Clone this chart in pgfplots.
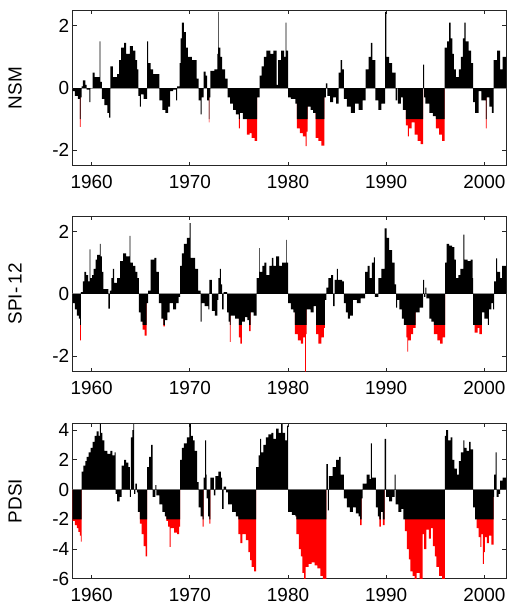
\documentclass[border=0pt]{standalone}
\usepackage{fontspec}
\setmainfont{Liberation Sans}
\usepackage{pgfplots}
\usepackage{pgfplotstable}
\pgfplotsset{compat=1.18}

\pgfplotstableread{
t v
1958.05 -0.1
1958.3 -0.25
1958.6 -0.35
1958.8 -1.25
1958.87 -0.3
1958.97 0.05
1959.1 0.25
1959.35 0.1
1959.5 -0.05
1959.78 -0.45
1959.88 0.0
1960.1 0.5
1960.3 0.35
1960.8 1.5
1960.88 0.2
1961.05 -0.35
1961.3 -0.55
1961.6 -0.8
1961.78 -0.95
1961.9 0.7
1962.15 0.35
1962.6 0.45
1962.8 0.9
1963.0 1.3
1963.3 1.45
1963.5 1.1
1963.9 1.35
1964.2 1.2
1964.45 0.9
1964.62 0.6
1964.75 -0.25
1964.92 -0.6
1965.02 -0.2
1965.3 -0.35
1965.65 1.5
1965.75 0.8
1966.0 0.6
1966.25 0.45
1966.9 -0.4
1967.2 -0.7
1967.5 -0.8
1967.8 -0.6
1968.0 -0.1
1968.3 -0.05
1968.6 -0.4
1968.7 0.05
1968.95 0.8
1969.05 1.6
1969.2 2.1
1969.4 1.8
1969.6 1.3
1969.8 1.0
1970.2 0.9
1970.7 0.3
1970.9 -0.4
1971.1 -0.85
1971.2 -0.3
1971.4 0.53
1971.6 0.4
1971.75 -0.4
1971.95 -1.1
1972.0 -0.3
1972.1 0.55
1972.5 0.6
1972.8 1.1
1972.88 2.45
1972.93 1.3
1973.1 1.0
1973.3 0.6
1973.6 0.3
1973.85 -0.3
1974.1 -0.5
1974.4 -0.7
1974.7 -0.85
1975.0 -1.3
1975.1 -0.8
1975.4 -1.0
1975.8 -1.5
1976.1 -1.45
1976.3 -1.6
1976.6 -1.7
1976.85 -0.3
1977.1 0.4
1977.3 0.7
1977.55 1.0
1977.8 1.2
1978.2 1.1
1978.5 1.2
1978.85 0.1
1979.0 0.9
1979.3 1.2
1979.6 1.0
1979.75 2.1
1979.82 1.2
1980.0 -0.3
1980.3 -0.35
1980.75 -0.5
1980.9 -1.3
1981.2 -1.45
1981.5 -1.55
1981.8 -1.87
1981.9 -1.4
1982.0 -0.6
1982.3 -0.7
1982.55 -0.8
1982.8 -1.6
1983.1 -1.7
1983.4 -1.85
1983.7 -0.3
1983.85 0.15
1984.0 -0.25
1984.3 -0.45
1984.6 -0.3
1984.9 -0.5
1985.15 0.5
1985.35 0.9
1985.5 0.6
1985.7 -0.35
1986.0 -0.6
1986.4 -0.8
1986.8 -0.5
1987.2 -0.7
1987.6 -0.4
1987.9 0.6
1988.2 1.0
1988.45 1.45
1988.6 0.9
1988.9 -0.4
1989.2 -0.7
1989.5 -0.5
1989.88 2.45
1990.02 1.0
1990.3 0.8
1990.6 0.5
1990.95 -0.4
1991.1 0.0
1991.2 -0.5
1991.5 -0.3
1991.7 -0.7
1992.0 -1.2
1992.2 -1.55
1992.3 -1.3
1992.6 -1.1
1992.9 -1.5
1993.2 -1.7
1993.5 -1.8
1993.75 0.75
1993.85 -0.3
1994.0 -0.5
1994.4 -0.8
1994.75 -0.9
1995.05 -1.3
1995.4 -1.5
1995.7 -1.7
1995.95 1.3
1996.2 1.5
1996.4 2.1
1996.55 1.6
1996.75 1.1
1996.9 0.6
1997.1 0.35
1997.4 0.6
1997.6 1.0
1997.8 1.6
1997.95 2.1
1998.1 1.5
1998.4 1.2
1998.65 0.8
1998.85 -0.45
1999.05 -0.8
1999.4 -0.1
1999.7 -0.4
2000.15 -1.3
2000.22 -0.3
2000.5 -0.6
2000.75 -0.8
2000.95 0.9
2001.3 1.2
2001.6 0.6
2001.85 1.0
2002.2 1.0
}\nsm

\pgfplotstableread{
t v
1958.05 -0.3
1958.3 -0.5
1958.5 -0.7
1958.7 -0.8
1958.83 -1.5
1958.9 0.05
1959.1 0.4
1959.25 0.7
1959.45 0.6
1959.65 0.4
1959.8 1.43
1959.88 0.5
1960.05 0.6
1960.2 0.8
1960.4 1.1
1960.55 1.25
1960.85 1.6
1960.92 1.2
1961.05 0.7
1961.2 0.15
1961.7 -0.48
1961.85 0.1
1962.0 0.5
1962.15 0.8
1962.3 0.35
1962.6 0.5
1962.9 1.05
1963.2 1.3
1963.5 1.2
1963.88 1.86
1963.95 1.0
1964.2 0.9
1964.45 0.7
1964.65 0.5
1964.8 -0.6
1965.0 -0.9
1965.2 -1.15
1965.4 -1.35
1965.6 -0.3
1965.75 0.1
1966.0 1.1
1966.4 1.15
1966.6 0.7
1966.85 -0.3
1967.1 -0.8
1967.3 -1.05
1967.45 -0.85
1967.7 -0.6
1967.95 -0.3
1968.3 -0.5
1968.6 -0.3
1968.85 -0.1
1969.0 0.9
1969.2 1.3
1969.4 1.6
1969.7 1.8
1969.98 2.27
1970.08 1.15
1970.55 0.8
1970.85 0.1
1971.1 -0.9
1971.2 -0.3
1971.5 -0.4
1971.9 -0.5
1972.0 0.45
1972.25 -0.55
1972.55 -0.7
1972.8 -0.2
1972.9 0.5
1973.05 0.8
1973.15 0.3
1973.3 -0.5
1973.45 0.05
1973.8 -0.6
1973.95 -0.9
1974.07 -1.55
1974.15 -0.7
1974.6 -0.8
1975.0 -1.4
1975.15 -1.6
1975.3 -0.9
1975.6 -0.75
1975.85 -0.85
1976.05 -1.2
1976.2 -0.6
1976.5 -0.7
1976.8 0.5
1977.05 1.47
1977.12 0.7
1977.4 0.9
1977.6 1.0
1977.8 0.6
1978.1 0.9
1978.35 1.15
1978.5 0.9
1978.8 1.2
1979.1 0.9
1979.4 1.0
1979.8 1.73
1979.87 1.0
1980.0 -0.3
1980.3 -0.5
1980.55 -0.6
1980.7 -1.3
1981.0 -1.5
1981.3 -1.6
1981.55 -1.4
1981.75 -2.5
1981.82 -1.3
1981.9 -0.5
1982.3 -0.6
1982.6 -0.4
1982.85 -1.3
1983.1 -1.6
1983.4 -1.4
1983.65 -1.1
1983.75 -0.2
1983.9 0.2
1984.1 0.5
1984.4 0.6
1984.6 -0.4
1984.75 0.45
1984.98 0.8
1985.08 0.45
1985.5 0.4
1985.7 -0.3
1985.9 -0.6
1986.1 -0.8
1986.3 -0.7
1986.6 -0.2
1987.0 -0.3
1987.4 -0.15
1987.85 0.7
1988.1 0.9
1988.3 0.5
1988.55 1.0
1988.75 1.17
1988.85 -0.1
1989.2 0.5
1989.5 0.8
1989.85 2.1
1990.05 1.8
1990.3 1.4
1990.6 1.0
1990.85 0.3
1991.0 -0.45
1991.1 -0.2
1991.35 -0.5
1991.6 -0.8
1991.8 -1.0
1992.05 -1.4
1992.15 -1.86
1992.22 -1.5
1992.5 -1.3
1992.75 -1.1
1993.0 -0.6
1993.4 -0.45
1993.75 0.45
1993.85 -0.1
1994.0 0.2
1994.1 -0.15
1994.4 -0.8
1994.6 -0.9
1994.85 -1.3
1995.2 -1.5
1995.5 -1.6
1995.75 -1.4
1996.0 1.0
1996.15 1.6
1996.4 1.55
1996.7 1.5
1996.95 1.1
1997.1 0.5
1997.35 0.6
1997.55 0.8
1997.85 1.9
1997.95 1.1
1998.3 1.05
1998.6 1.1
1998.8 0.5
1998.85 -1.0
1999.0 -1.25
1999.3 -1.1
1999.5 -1.3
1999.75 -0.6
2000.0 -0.8
2000.35 -1.0
2000.45 -0.5
2000.7 -0.3
2000.9 -0.5
2001.0 0.4
2001.2 1.14
2001.3 0.7
2001.6 0.5
2001.8 0.9
2002.2 0.9
}\spi

\pgfplotstableread{
t v
1958.05 -2.1
1958.3 -2.4
1958.5 -2.6
1958.65 -2.85
1958.8 -3.1
1958.9 -3.5
1958.98 1.2
1959.15 1.6
1959.35 1.9
1959.5 2.2
1959.7 2.5
1959.9 2.8
1960.1 3.2
1960.3 3.6
1960.5 3.9
1960.7 3.6
1960.85 4.43
1960.95 3.8
1961.1 3.3
1961.3 2.6
1961.6 2.4
1961.9 2.6
1962.1 2.3
1962.35 2.5
1962.45 -0.3
1962.6 -0.8
1962.85 -0.5
1963.05 1.6
1963.3 2.0
1963.5 1.8
1963.75 1.5
1963.9 -0.5
1964.0 3.5
1964.15 4.0
1964.25 4.4
1964.32 -0.3
1964.45 0.4
1964.6 -0.2
1964.7 -1.5
1964.9 -2.3
1965.1 -3.0
1965.3 -3.8
1965.5 -4.5
1965.65 1.5
1965.85 2.2
1966.05 3.0
1966.2 -0.5
1966.5 0.3
1966.6 -0.4
1966.9 -1.0
1967.2 -1.5
1967.45 -1.8
1967.6 -2.1
1967.8 -2.5
1967.95 -3.85
1968.05 -2.6
1968.4 -2.9
1968.7 -3.0
1968.9 -2.5
1969.0 2.0
1969.2 2.8
1969.4 3.1
1969.7 3.5
1969.95 4.4
1970.1 3.6
1970.3 3.3
1970.5 2.6
1970.75 0.5
1970.9 -1.2
1971.1 -1.8
1971.3 -2.5
1971.4 0.8
1971.55 3.3
1971.65 1.0
1971.7 -0.6
1971.85 -1.8
1971.98 -2.3
1972.1 0.8
1972.45 -0.4
1972.6 0.9
1972.9 1.2
1973.15 0.8
1973.3 -1.3
1973.45 0.2
1973.7 -0.2
1973.9 -1.0
1974.3 -1.5
1974.7 -1.8
1974.95 -3.0
1975.15 -3.6
1975.35 -3.0
1975.7 -3.4
1975.95 -4.2
1976.15 -4.75
1976.3 -5.2
1976.55 -5.5
1976.75 1.5
1977.0 2.3
1977.15 3.4
1977.25 2.5
1977.5 3.0
1977.75 3.5
1978.0 3.7
1978.3 3.8
1978.5 3.4
1978.8 4.1
1979.05 3.8
1979.3 4.4
1979.45 3.8
1979.7 3.3
1979.9 4.3
1980.0 -1.5
1980.4 -1.7
1980.75 -1.8
1980.85 -3.0
1981.1 -4.0
1981.3 -4.5
1981.45 -5.6
1981.65 -6.2
1981.8 -5.2
1982.1 -5.0
1982.4 -4.9
1982.7 -5.1
1983.0 -5.3
1983.3 -5.8
1983.55 -6.2
1983.9 1.7
1984.05 -1.4
1984.15 0.9
1984.55 1.5
1984.9 2.0
1985.2 2.2
1985.35 1.0
1985.7 -0.6
1986.0 -1.2
1986.3 -1.5
1986.6 -1.2
1986.9 -1.6
1987.2 -1.8
1987.35 -2.4
1987.5 -0.6
1987.6 0.4
1988.0 1.0
1988.3 0.7
1988.45 3.1
1988.55 0.8
1988.95 -1.2
1989.15 -1.8
1989.3 -2.5
1989.45 -1.5
1989.65 -2.4
1989.85 3.4
1990.0 -0.5
1990.3 -0.8
1990.6 -0.5
1990.85 1.0
1990.95 -1.0
1991.25 -1.5
1991.55 -1.3
1991.75 -2.0
1991.9 -2.8
1992.1 -4.0
1992.3 -4.7
1992.45 -5.5
1992.7 -5.8
1992.9 -6.1
1993.1 -5.6
1993.4 -6.1
1993.7 -3.0
1993.85 -4.0
1994.1 -2.7
1994.35 -3.3
1994.55 -2.6
1994.75 -3.8
1994.95 -4.5
1995.1 -5.2
1995.4 -5.8
1995.7 -6.2
1995.98 3.6
1996.1 4.0
1996.3 3.3
1996.55 3.5
1996.75 2.0
1996.95 1.4
1997.2 1.0
1997.4 1.9
1997.6 2.5
1997.85 3.3
1997.95 2.8
1998.2 2.6
1998.45 3.2
1998.6 2.7
1998.85 -1.2
1999.05 -2.0
1999.2 -2.6
1999.4 -3.2
1999.6 -3.85
1999.7 -3.0
1999.85 -5.0
1999.95 -4.2
2000.05 -3.2
2000.25 -3.6
2000.45 -3.1
2000.7 -3.7
2000.95 -0.5
2001.0 1.0
2001.15 2.5
2001.25 -0.5
2001.45 -0.3
2001.6 0.6
2001.85 0.8
2002.2 0.8
}\pdsi

\pgfplotsset{
  panel/.style={
    scale only axis, width=433.3bp, height=155.5bp,
    anchor=north west,
    xmin=1958.07, xmax=2002.2,
    xtick={1960,1970,1980,1990,2000},
    axis line style={line width=0.8pt, black!85},
    tick style={line width=0.8pt, black!85},
    major tick length=4bp,
    tick label style={font=\fontsize{19}{19}\selectfont},
    label style={font=\fontsize{19}{19}\selectfont},
    /pgf/number format/assume math mode=true,
    /pgf/number format/1000 sep={},
    xticklabel style={yshift=-6bp},
    ylabel style={at={(axis description cs:-0.133,0.5)}, anchor=center},
  }
}

\begin{document}
\begin{tikzpicture}
\path[use as bounding box] (-72.7bp,10.3bp) rectangle (437.3bp,-598.7bp);

\begin{axis}[panel, at={(0bp,0bp)}, ymin=-2.5, ymax=2.5, ytick={-2,0,2}, ylabel={NSM}]
\addplot[fill=red, draw=none, const plot mark left] table[x=t, y expr={\thisrow{v}<-1 ? \thisrow{v} : 0}] {\nsm} \closedcycle;
\addplot[gray!70, line width=0.8pt] coordinates {(1950,0) (2010,0)};
\addplot[fill=black, draw=none, const plot mark left] table[x=t, y expr={max(\thisrow{v},-1)}] {\nsm} \closedcycle;
\end{axis}

\begin{axis}[panel, at={(0bp,-205.7bp)}, ymin=-2.5, ymax=2.5, ytick={-2,0,2}, ylabel={SPI-\,12}]
\addplot[fill=red, draw=none, const plot mark left] table[x=t, y expr={\thisrow{v}<-1 ? \thisrow{v} : 0}] {\spi} \closedcycle;
\addplot[gray!70, line width=0.8pt] coordinates {(1950,0) (2010,0)};
\addplot[fill=black, draw=none, const plot mark left] table[x=t, y expr={max(\thisrow{v},-1)}] {\spi} \closedcycle;
\end{axis}

\begin{axis}[panel, at={(0bp,-413bp)}, ymin=-6, ymax=4.45, ytick={-6,-4,-2,0,2,4}, ylabel={PDSI}]
\addplot[fill=red, draw=none, const plot mark left] table[x=t, y expr={\thisrow{v}<-2 ? \thisrow{v} : 0}] {\pdsi} \closedcycle;
\addplot[gray!70, line width=0.8pt] coordinates {(1950,0) (2010,0)};
\addplot[fill=black, draw=none, const plot mark left] table[x=t, y expr={max(\thisrow{v},-2)}] {\pdsi} \closedcycle;
\end{axis}
\end{tikzpicture}
\end{document}
